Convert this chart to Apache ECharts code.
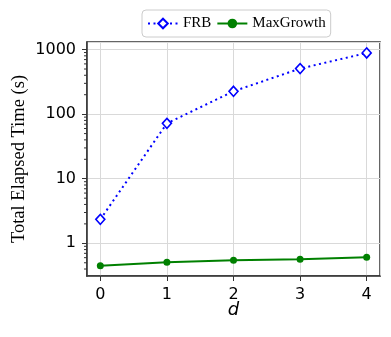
<!DOCTYPE html>
<html>
<head>
<meta charset="utf-8">
<script src="https://cdn.jsdelivr.net/npm/echarts@6/dist/echarts.min.js"></script>
<style>
html,body{margin:0;padding:0;background:#fff;}
#c{width:391px;height:337px;}
</style>
</head>
<body>
<div id="c"></div>
<script>
var dValues = [0, 1, 2, 3, 4];
var frbTimes = [2.35, 72, 226, 508, 886];
var maxGrowthTimes = [0.45, 0.51, 0.546, 0.566, 0.608];
var yMajorTicks = [1, 10, 100, 1000];
var yMinorTicks = [0.4, 0.5, 0.6, 0.7, 0.8, 0.9, 2, 3, 4, 5, 6, 7, 8, 9, 20, 30, 40, 50, 60, 70, 80, 90, 200, 300, 400, 500, 600, 700, 800, 900];

var chart = echarts.init(document.getElementById('c'));
var X_MIN = -0.2, X_MAX = 4.2, Y_MIN = 0.312, Y_MAX = 1310;
var axisColor = '#333';
var gridColor = '#d9d9d9';

function pairs(xs, ys){ return xs.map(function(x,i){return [x, ys[i]];}); }

chart.setOption({
  animation: false,
  backgroundColor: '#fff',
  grid: {left: 87, right: 11, top: 42, bottom: 61, containLabel: false,
         show: true, borderColor: axisColor, borderWidth: 1.5, backgroundColor: 'transparent'},
  legend: {
    top: 10, left: 142,
    itemWidth: 30, itemHeight: 12, itemGap: 5,
    padding: [6, 5, 6, 5],
    borderColor: '#cccccc', borderWidth: 1, borderRadius: 4,
    textStyle: {fontFamily: 'Liberation Serif', fontSize: 15, color: '#000'},
    data: ['FRB', 'MaxGrowth']
  },
  xAxis: {
    type: 'value', min: X_MIN, max: X_MAX,
    name: 'd', nameLocation: 'middle', nameGap: 25, nameMoveOverlap: false,
    nameTextStyle: {fontFamily: 'DejaVu Sans', fontStyle: 'italic', fontSize: 18, color: '#000', verticalAlign: 'top'},
    axisLine: {show: true, onZero: false, lineStyle: {color: axisColor, width: 1.5}},
    axisTick: {show: true, length: 5, lineStyle: {color: axisColor, width: 1}},
    axisLabel: {
      fontFamily: 'DejaVu Sans', fontSize: 16, color: '#000', margin: 11,
      showMinLabel: false, showMaxLabel: false,
      formatter: function(v){ return (Math.abs(v - Math.round(v)) < 1e-6) ? String(Math.round(v)) : ''; }
    },
    splitLine: {show: true, lineStyle: {color: gridColor, width: 1}}
  },
  yAxis: {
    type: 'log', logBase: 10, min: Y_MIN, max: Y_MAX,
    name: 'Total Elapsed Time (s)', nameLocation: 'middle', nameGap: 58, nameMoveOverlap: false,
    nameTextStyle: {fontFamily: 'Liberation Serif', fontSize: 18.5, color: '#000'},
    axisLine: {show: true, onZero: false, lineStyle: {color: axisColor, width: 1.5}},
    axisTick: {show: true, length: 5, lineStyle: {color: axisColor, width: 1}},
    axisLabel: {
      fontFamily: 'DejaVu Sans', fontSize: 16, color: '#000', margin: 11,
      showMinLabel: false, showMaxLabel: false,
      formatter: function(v){
        for (var i = 0; i < yMajorTicks.length; i++) {
          if (Math.abs(v - yMajorTicks[i]) / yMajorTicks[i] < 1e-6) return String(yMajorTicks[i]);
        }
        return '';
      }
    },
    splitLine: {show: true, lineStyle: {color: gridColor, width: 1}}
  },
  series: [
    {
      name: 'FRB', type: 'line', data: pairs(dValues, frbTimes),
      symbol: 'diamond', symbolSize: [9, 10],
      lineStyle: {color: '#0000ff', width: 2, type: [2, 3.5]},
      itemStyle: {color: '#ffffff', borderColor: '#0000ff', borderWidth: 1.6},
      z: 3
    },
    {
      name: 'MaxGrowth', type: 'line', data: pairs(dValues, maxGrowthTimes),
      symbol: 'circle', symbolSize: 7,
      lineStyle: {color: '#008000', width: 2},
      itemStyle: {color: '#008000', borderColor: '#008000', borderWidth: 0},
      z: 3
    },
    {
      name: 'minorTicks', type: 'custom', silent: true, clip: false,
      data: yMinorTicks.map(function(v){ return [X_MIN, v]; }),
      renderItem: function(params, api){
        var p = api.coord([api.value(0), api.value(1)]);
        return {type: 'line', shape: {x1: p[0] - 3, y1: p[1], x2: p[0], y2: p[1]},
                style: {stroke: axisColor, lineWidth: 1}};
      },
      z: 4
    }
  ]
});
</script>
</body>
</html>
